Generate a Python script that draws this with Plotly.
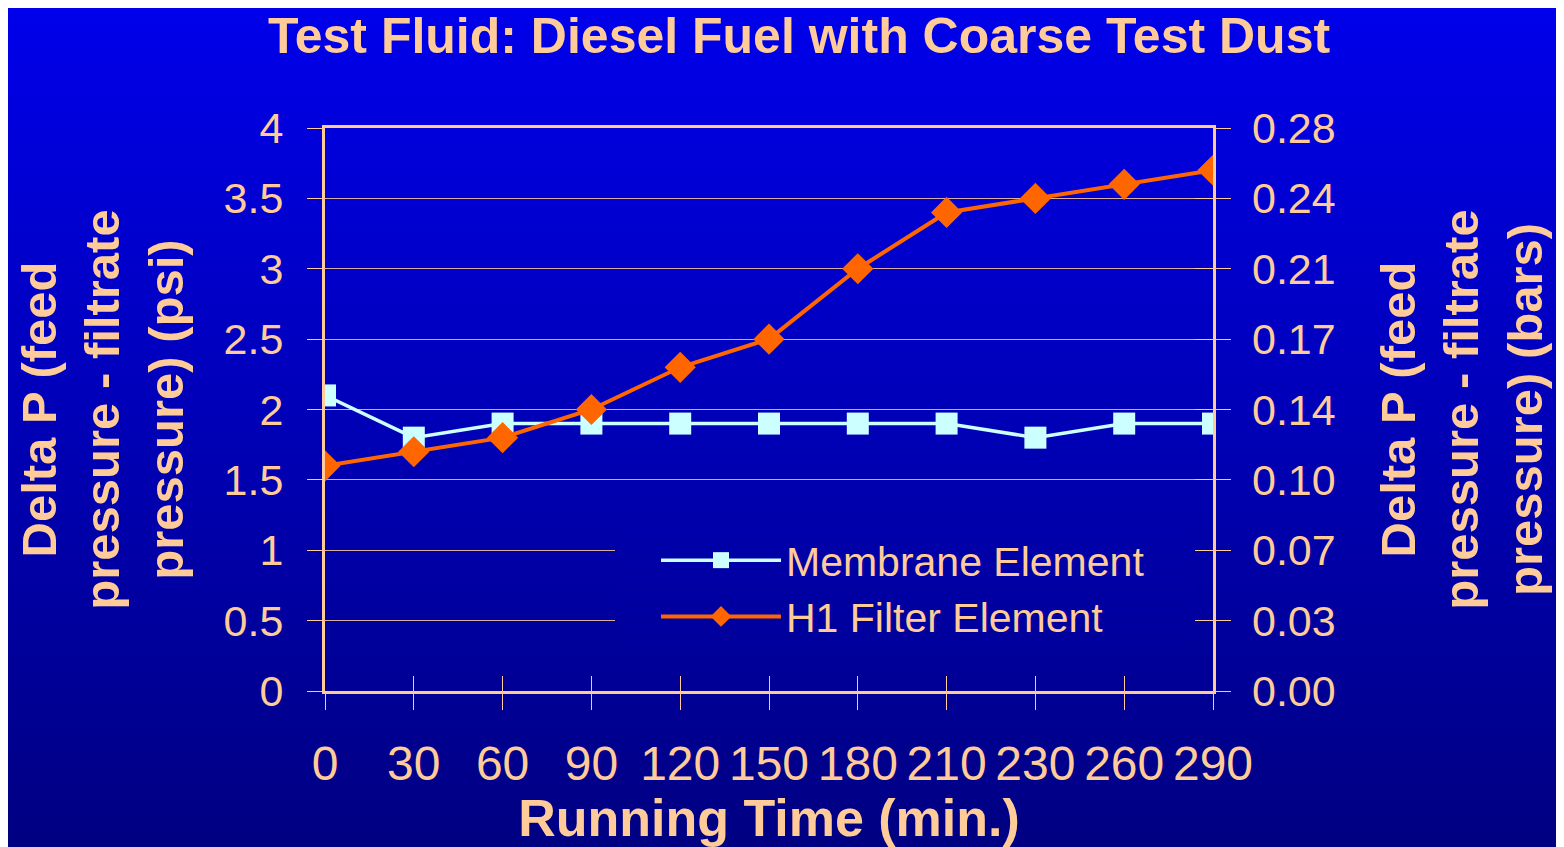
import plotly.graph_objects as go

# ---------------- data ----------------
running_time = ["0", "30", "60", "90", "120", "150", "180", "210", "230", "260", "290"]
membrane_psi = [2.1, 1.8, 1.9, 1.9, 1.9, 1.9, 1.9, 1.9, 1.8, 1.9, 1.9]
h1_filter_psi = [1.6, 1.7, 1.8, 2.0, 2.3, 2.5, 3.0, 3.4, 3.5, 3.6, 3.7]
psi_ticks = [0, 0.5, 1, 1.5, 2, 2.5, 3, 3.5, 4]
PSI_TO_BAR = 0.0689476
bar_ticks = [v * PSI_TO_BAR for v in psi_ticks]
h1_filter_bar = [v * PSI_TO_BAR for v in h1_filter_psi]

# ---------------- geometry / style ----------------
OFF = 8                     # page body margin
W, H = 1564 - OFF, 847 - OFF
L, R, T, B = 325 - OFF, 1213 - OFF, 128 - OFF, 691 - OFF
PW, PH = R - L, B - T
PEACH = "#FFCC99"
FONT = "Liberation Sans"


def xp(px):
    """reference-image x pixel -> paper coordinate"""
    return (px - OFF - L) / PW


def yp(py):
    """reference-image y pixel -> paper coordinate"""
    return (B - (py - OFF)) / PH


def bg_color(py):
    top, bot = 236, 130
    b = top - (top - bot) * (py / 847)
    return f"rgb(0,0,{int(round(b))})"


shapes = []
step = 8
for y0 in range(0, 860, step):
    shapes.append(dict(type="rect", xref="paper", yref="paper",
                       x0=xp(-5), x1=xp(1580), y0=yp(y0 + step + 1), y1=yp(y0),
                       fillcolor=bg_color(y0 + step / 2), line_width=0, layer="below"))
# legend backdrop hiding the gridlines
for y0 in range(527, 650, step):
    shapes.append(dict(type="rect", xref="paper", yref="paper",
                       x0=xp(615), x1=xp(1195), y0=yp(min(y0 + step + 1, 650)), y1=yp(y0),
                       fillcolor=bg_color(y0 + step / 2), line_width=0, layer="above"))

fig = go.Figure()
fig.add_trace(go.Scatter(
    x=running_time, y=membrane_psi, name="Membrane Element", mode="lines+markers",
    line=dict(color="#CCFFFF", width=3.5),
    marker=dict(symbol="square", size=22, color="#CCFFFF", line=dict(width=0)),
))
fig.add_trace(go.Scatter(
    x=running_time, y=h1_filter_psi, name="H1 Filter Element", mode="lines+markers",
    line=dict(color="#FF6600", width=4),
    marker=dict(symbol="diamond", size=24, color="#FF6600", line=dict(width=0)),
))
# invisible trace carrying the secondary (bar) axis
fig.add_trace(go.Scatter(
    x=running_time, y=h1_filter_bar, xaxis="x2", yaxis="y2", mode="lines",
    line=dict(width=0), opacity=0, showlegend=False, hoverinfo="skip",
))

title_font = dict(family=FONT, size=49, color=PEACH)
fig.update_layout(
    width=W, height=H,
    margin=dict(l=L, r=W - R, t=T, b=H - B, autoexpand=False),
    paper_bgcolor="rgb(0,0,180)",
    plot_bgcolor="rgba(0,0,0,0)",
    shapes=shapes,
    title=dict(text="<b>Test Fluid: Diesel Fuel with Coarse Test Dust</b>",
               x=(799 - OFF) / W, xanchor="center", y=1 - (35 - OFF) / H, yanchor="middle",
               font=dict(family=FONT, size=50, color=PEACH), automargin=False),
    xaxis=dict(
        type="category", range=[0, 10], automargin=False,
        showline=True, linecolor=PEACH, linewidth=3, mirror=True,
        ticks="outside", ticklen=16, tickwidth=1, tickcolor=PEACH,
        tickfont=dict(family=FONT, size=48, color=PEACH),
        ticklabelstandoff=12,
        showgrid=False, zeroline=False,
        title=dict(text="<b>Running Time (min.)</b>", font=dict(family=FONT, size=52, color=PEACH),
                   standoff=14),
    ),
    xaxis2=dict(
        type="category", range=[0, 10], overlaying="x", anchor="y", side="bottom",
        automargin=False,
        ticks="inside", ticklen=15, tickwidth=1, tickcolor=PEACH,
        showticklabels=False, showline=False, showgrid=False, zeroline=False,
    ),
    yaxis=dict(
        range=[0, 4], tickvals=psi_ticks, ticktext=[f"{v:g}" for v in psi_ticks],
        automargin=False,
        showline=True, linecolor=PEACH, linewidth=3, mirror="ticks",
        ticks="outside", ticklen=15, tickwidth=1, tickcolor=PEACH,
        tickfont=dict(family=FONT, size=43, color=PEACH),
        ticklabelstandoff=15,
        showgrid=True, gridcolor="rgba(255,204,153,0.85)", gridwidth=1, zeroline=False,
        title=dict(text="<b>Delta P (feed<br>pressure - filtrate<br>pressure) (psi)</b>",
                   font=title_font, standoff=25),
    ),
    yaxis2=dict(
        range=[0, 4 * PSI_TO_BAR], tickvals=bar_ticks, tickformat=".2f",
        overlaying="y", side="right", anchor="x2", automargin=False,
        showline=False, ticks="inside", ticklen=18, tickwidth=1, tickcolor=PEACH,
        tickfont=dict(family=FONT, size=43, color=PEACH),
        ticklabelstandoff=38,
        showgrid=False, zeroline=False,
        title=dict(text="<b>Delta P (feed<br>pressure - filtrate<br>pressure) (bars)</b>",
                   font=title_font, standoff=45),
    ),
    legend=dict(
        x=xp(656), xanchor="left", y=yp(527), yanchor="top",
        bgcolor="rgba(0,0,0,0)", borderwidth=0,
        font=dict(family=FONT, size=41, color=PEACH),
        itemwidth=120, tracegroupgap=0,
    ),
    showlegend=True,
)

fig.write_html("out.html")
